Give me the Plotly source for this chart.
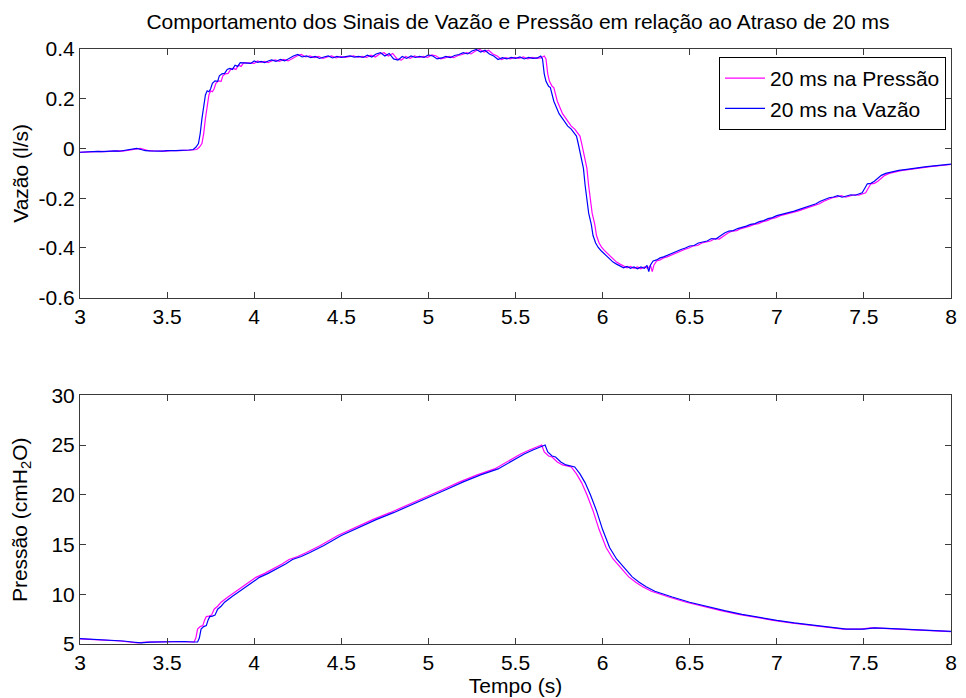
import plotly.graph_objects as go

# ---- measured signals -------------------------------------------------------
DELAY = 0.02  # s

FLOW_T = [
    2.975, 3.0, 3.025, 3.05, 3.075, 3.1, 3.125, 3.15, 3.175, 3.2, 3.225, 3.25,
    3.275, 3.3, 3.325, 3.35, 3.375, 3.4, 3.425, 3.45, 3.475, 3.5, 3.525, 3.55,
    3.575, 3.6, 3.625, 3.65, 3.665, 3.68, 3.69, 3.70, 3.71, 3.72, 3.73, 3.74,
    3.75, 3.76, 3.775, 3.79, 3.80, 3.815, 3.83, 3.845, 3.86, 3.875, 3.89, 3.905,
    3.92, 3.94, 3.96, 3.98, 4.0, 4.02, 4.04, 4.06, 4.08, 4.1, 4.125, 4.15,
    4.175, 4.2, 4.225, 4.25, 4.275, 4.3, 4.325, 4.35, 4.375, 4.4, 4.425, 4.45,
    4.475, 4.5, 4.525, 4.55, 4.575, 4.6, 4.625, 4.65, 4.675, 4.7, 4.725, 4.75,
    4.775, 4.8, 4.825, 4.85, 4.875, 4.9, 4.925, 4.95, 4.975, 5.0, 5.025, 5.05,
    5.075, 5.1, 5.125, 5.15, 5.175, 5.2, 5.225, 5.25, 5.275, 5.3, 5.325, 5.35,
    5.375, 5.4, 5.425, 5.45, 5.475, 5.5, 5.525, 5.55, 5.575, 5.6, 5.625, 5.645,
    5.655, 5.665, 5.675, 5.69, 5.70, 5.71, 5.72, 5.735, 5.75, 5.765, 5.78, 5.80,
    5.82, 5.835, 5.85, 5.86, 5.87, 5.88, 5.89, 5.90, 5.91, 5.92, 5.935, 5.945,
    5.96, 5.975, 5.99, 6.005, 6.02, 6.04, 6.06, 6.08, 6.1, 6.12, 6.14, 6.16,
    6.18, 6.2, 6.22, 6.24, 6.255, 6.265, 6.275, 6.29, 6.31, 6.33, 6.35, 6.375,
    6.4, 6.425, 6.45, 6.475, 6.5, 6.525, 6.55, 6.575, 6.6, 6.625, 6.65, 6.675,
    6.7, 6.725, 6.75, 6.775, 6.8, 6.825, 6.85, 6.875, 6.9, 6.925, 6.95, 6.975,
    7.0, 7.025, 7.05, 7.075, 7.1, 7.125, 7.15, 7.175, 7.2, 7.225, 7.25, 7.275,
    7.3, 7.325, 7.35, 7.375, 7.4, 7.425, 7.45, 7.475, 7.49, 7.505, 7.52, 7.54,
    7.56, 7.58, 7.6, 7.625, 7.65, 7.675, 7.7, 7.725, 7.75, 7.775, 7.8, 7.825,
    7.85, 7.875, 7.9, 7.925, 7.95, 7.975, 8.0,
]

FLOW = [
    -0.016, -0.015, -0.014, -0.015, -0.013, -0.012, -0.013, -0.011, -0.012, -0.010, -0.011, -0.008,
    -0.006, -0.002, 0.000, -0.004, -0.009, -0.010, -0.011, -0.010, -0.011, -0.009, -0.010, -0.009,
    -0.008, -0.008, -0.006, -0.004, 0.005, 0.020, 0.060, 0.120, 0.170, 0.215, 0.232, 0.228,
    0.240, 0.262, 0.272, 0.270, 0.292, 0.300, 0.302, 0.318, 0.322, 0.318, 0.335, 0.330,
    0.345, 0.344, 0.346, 0.342, 0.352, 0.346, 0.350, 0.345, 0.352, 0.356, 0.350, 0.358,
    0.352, 0.362, 0.372, 0.378, 0.368, 0.372, 0.365, 0.370, 0.362, 0.368, 0.372, 0.364,
    0.370, 0.366, 0.368, 0.372, 0.367, 0.370, 0.366, 0.375, 0.368, 0.380, 0.385, 0.372,
    0.382, 0.360, 0.355, 0.370, 0.362, 0.372, 0.366, 0.370, 0.366, 0.376, 0.372, 0.360,
    0.364, 0.370, 0.365, 0.374, 0.378, 0.385, 0.380, 0.392, 0.398, 0.388, 0.395, 0.380,
    0.372, 0.358, 0.365, 0.360, 0.366, 0.362, 0.368, 0.360, 0.366, 0.362, 0.364, 0.372,
    0.360, 0.300, 0.270, 0.250, 0.245, 0.210, 0.190, 0.165, 0.140, 0.125, 0.110, 0.090,
    0.078, 0.065, 0.050, 0.020, -0.010, -0.050, -0.080, -0.150, -0.210, -0.260, -0.305, -0.350,
    -0.380, -0.398, -0.410, -0.420, -0.432, -0.445, -0.457, -0.465, -0.472, -0.480, -0.474, -0.482,
    -0.476, -0.484, -0.476, -0.482, -0.470, -0.495, -0.468, -0.452, -0.448, -0.440, -0.436, -0.428,
    -0.420, -0.414, -0.406, -0.400, -0.392, -0.390, -0.380, -0.376, -0.372, -0.362, -0.364, -0.352,
    -0.340, -0.332, -0.330, -0.322, -0.318, -0.312, -0.305, -0.302, -0.294, -0.290, -0.282, -0.278,
    -0.270, -0.266, -0.262, -0.255, -0.252, -0.246, -0.240, -0.236, -0.230, -0.222, -0.212, -0.204,
    -0.198, -0.195, -0.190, -0.196, -0.190, -0.186, -0.188, -0.180, -0.178, -0.160, -0.142, -0.140,
    -0.132, -0.120, -0.108, -0.100, -0.095, -0.092, -0.088, -0.086, -0.083, -0.080, -0.078, -0.076,
    -0.074, -0.072, -0.070, -0.068, -0.066, -0.065, -0.063,
]

PRESS_T = [
    2.98, 3.0, 3.05, 3.1, 3.15, 3.2, 3.25, 3.3, 3.35, 3.4, 3.45, 3.5,
    3.55, 3.6, 3.65, 3.675, 3.685, 3.695, 3.71, 3.725, 3.735, 3.745, 3.76, 3.775,
    3.79, 3.81, 3.83, 3.85, 3.875, 3.9, 3.94, 3.98, 4.03, 4.08, 4.13, 4.18,
    4.22, 4.27, 4.32, 4.4, 4.5, 4.6, 4.7, 4.8, 4.9, 5.0, 5.1, 5.2,
    5.3, 5.4, 5.45, 5.5, 5.55, 5.6, 5.65, 5.67, 5.685, 5.71, 5.73, 5.76,
    5.79, 5.82, 5.84, 5.87, 5.9, 5.93, 5.965, 6.0, 6.04, 6.08, 6.136, 6.17,
    6.21, 6.25, 6.3, 6.35, 6.4, 6.5, 6.6, 6.7, 6.8, 6.9, 7.0, 7.1,
    7.2, 7.3, 7.4, 7.5, 7.56, 7.63, 7.73, 7.83, 7.93, 8.02,
]

PRESS = [
    5.55, 5.53, 5.50, 5.45, 5.42, 5.38, 5.30, 5.20, 5.12, 5.18, 5.20, 5.22,
    5.20, 5.25, 5.20, 5.20, 5.60, 6.50, 6.75, 6.85, 7.40, 7.75, 7.80, 7.90,
    8.50, 8.80, 9.20, 9.50, 9.80, 10.10, 10.60, 11.10, 11.70, 12.10, 12.55, 13.05,
    13.50, 13.80, 14.20, 14.90, 15.90, 16.70, 17.50, 18.20, 18.95, 19.70, 20.50, 21.30,
    22.00, 22.60, 23.10, 23.60, 24.10, 24.50, 24.90, 25.00, 24.30, 23.90, 23.80, 23.30,
    23.00, 22.90, 22.80, 22.10, 21.20, 20.00, 18.40, 16.50, 14.70, 13.55, 12.40, 11.75,
    11.20, 10.75, 10.30, 9.98, 9.72, 9.20, 8.75, 8.35, 7.98, 7.65, 7.38, 7.12,
    6.90, 6.65, 6.50, 6.50, 6.63, 6.57, 6.47, 6.37, 6.30, 6.25,
]

SERIES_NAMES = ["20 ms na Pressão", "20 ms na Vazão"]
SERIES_COLORS = ["#ff00ff", "#0000ff"]

X_TICKS = [3, 3.5, 4, 4.5, 5, 5.5, 6, 6.5, 7, 7.5, 8]
FLOW_TICKS = [-0.6, -0.4, -0.2, 0, 0.2, 0.4]
PRESS_TICKS = [5, 10, 15, 20, 25, 30]

# ---- figure -----------------------------------------------------------------
FONT = "Liberation Sans, Arial, sans-serif"
FS = 21

# magenta: flow delayed; blue: pressure delayed relative to magenta
flow_x = {
    SERIES_NAMES[0]: [t + DELAY for t in FLOW_T],
    SERIES_NAMES[1]: FLOW_T,
}
press_x = {
    SERIES_NAMES[0]: [t - DELAY for t in PRESS_T],
    SERIES_NAMES[1]: PRESS_T,
}

fig = go.Figure()
for name, color in zip(SERIES_NAMES, SERIES_COLORS):
    fig.add_trace(go.Scatter(
        x=flow_x[name], y=FLOW, mode="lines", name=name,
        line=dict(color=color, width=1.2), xaxis="x", yaxis="y",
    ))
for name, color in zip(SERIES_NAMES, SERIES_COLORS):
    fig.add_trace(go.Scatter(
        x=press_x[name], y=PRESS, mode="lines", name=name, showlegend=False,
        line=dict(color=color, width=1.2), xaxis="x2", yaxis="y2",
    ))

axis_common = dict(
    showgrid=False, zeroline=False, showline=True, linecolor="#3a3a3a",
    linewidth=1, mirror="ticks", ticks="inside", ticklen=6, tickwidth=1,
    tickcolor="#3a3a3a", tickfont=dict(family=FONT, size=FS, color="black"),
)

W, H = 966, 698
L, R, T, B = 80, 9, 49, 51
plot_w = W - L - R


def xpaper(px):
    return (px - L) / plot_w


fig.update_layout(
    width=W, height=H,
    margin=dict(l=L, r=R, t=T, b=B),
    paper_bgcolor="white", plot_bgcolor="white",
    font=dict(family=FONT, size=FS, color="black"),
    title=dict(
        text="Comportamento dos Sinais de Vazão e Pressão em relação ao Atraso de 20 ms",
        x=0.5362, xanchor="center", y=1 - 22 / H, yanchor="middle",
        font=dict(family=FONT, size=FS, color="black"),
    ),
    xaxis=dict(axis_common, domain=[0, 1], range=[3, 8], tickvals=X_TICKS,
               ticktext=[f"{v:g}" for v in X_TICKS], anchor="y"),
    yaxis=dict(axis_common, domain=[0.582, 1], range=[-0.6, 0.4], tickvals=FLOW_TICKS,
               ticktext=[f"{v:g}" for v in FLOW_TICKS], anchor="x"),
    xaxis2=dict(axis_common, domain=[0, 1], range=[3, 8], tickvals=X_TICKS,
                ticktext=[f"{v:g}" for v in X_TICKS], anchor="y2",
                title=dict(text="Tempo (s)", standoff=0,
                           font=dict(family=FONT, size=FS, color="black"))),
    yaxis2=dict(axis_common, domain=[0, 0.418], range=[5, 30], tickvals=PRESS_TICKS,
                ticktext=[f"{v:g}" for v in PRESS_TICKS], anchor="x2"),
    legend=dict(
        x=xpaper(952), xanchor="right", y=0.9866, yanchor="top",
        bordercolor="black", borderwidth=1, bgcolor="white",
        font=dict(family=FONT, size=FS, color="black"),
        tracegroupgap=0, itemwidth=40,
    ),
    showlegend=True,
    annotations=[
        dict(text="Vazão (l/s)", textangle=-90, xref="paper", yref="paper",
             x=xpaper(20), y=0.791, xanchor="center", yanchor="middle",
             showarrow=False, font=dict(family=FONT, size=FS, color="black")),
        dict(text="Pressão (cmH<sub>2</sub>O)", textangle=-90, xref="paper", yref="paper",
             x=xpaper(20), y=0.209, xanchor="center", yanchor="middle",
             showarrow=False, font=dict(family=FONT, size=FS, color="black")),
    ],
)

fig.write_html("out.html")
